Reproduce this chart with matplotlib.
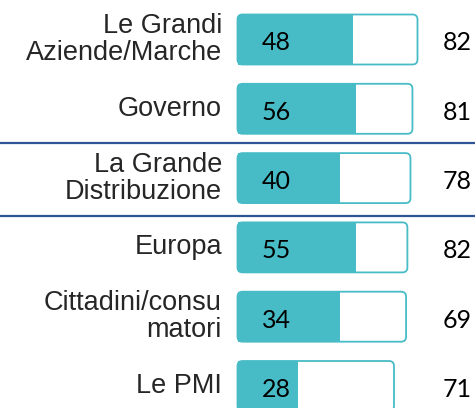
import matplotlib.pyplot as plt
from matplotlib.patches import FancyBboxPatch, Rectangle

# labels and values printed on the chart
categories = ["Le Grandi\nAziende/Marche", "Governo", "La Grande\nDistribuzione",
              "Europa", "Cittadini/consu\nmatori", "Le PMI"]
inner_vals = [48, 56, 40, 55, 34, 28]
outer_vals = [82, 81, 78, 82, 69, 71]

# bar lengths as drawn in the original graphic (not exactly to scale with the labels)
fill_drawn = [52.4, 53.8, 46.9, 53.8, 46.9, 27.6]
box_drawn = [82.0, 79.7, 78.8, 77.4, 76.8, 71.3]

teal = "#48BCC6"
W, H = 475, 408
px_x = 2.195      # pixels per value unit
px_y = 69.3       # pixels per row
x0 = 237.5        # left edge of bars in pixels
y0 = 39.5         # centre of first row in pixels

fig = plt.figure(figsize=(W / 100, H / 100), dpi=100)
ax = fig.add_axes([0, 0, 1, 1])
ax.set_xlim(-x0 / px_x, (W - x0) / px_x)
ax.set_ylim((H - y0) / px_y, -y0 / px_y)
ax.axis("off")

bh = 50 / px_y
rad = 5 / px_x
for i, name in enumerate(categories):
    # outline box with rounded right corners
    box = FancyBboxPatch((0, i - bh / 2), box_drawn[i], bh,
                         boxstyle=f"round,pad=0,rounding_size={rad}",
                         mutation_aspect=px_x / px_y,
                         facecolor="white", edgecolor=teal, linewidth=1.3, zorder=2)
    ax.add_patch(box)
    ax.add_patch(Rectangle((0, i - bh / 2), fill_drawn[i], bh,
                           facecolor=teal, edgecolor="none", zorder=3))

    ax.annotate(name, xy=(0, i), xytext=(-11.2, 0), textcoords="offset points",
                ha="right", va="center", fontsize=19.5, color="#262626",
                family="Liberation Sans", linespacing=1.05)
    ax.annotate(str(inner_vals[i]), xy=(0, i), xytext=(17.6, -2.5), textcoords="offset points",
                ha="left", va="center", fontsize=18, color="black", family="Lato", zorder=4)
    ax.annotate(str(outer_vals[i]), xy=(0, i), xytext=(148, -2.5), textcoords="offset points",
                ha="left", va="center", fontsize=18, color="black", family="Lato")

# separators around "La Grande Distribuzione"
for yl in (1.49, 2.55):
    ax.axhline(yl, color="#2F5597", linewidth=1.6, zorder=1)

fig.savefig("out.png", dpi=100)
